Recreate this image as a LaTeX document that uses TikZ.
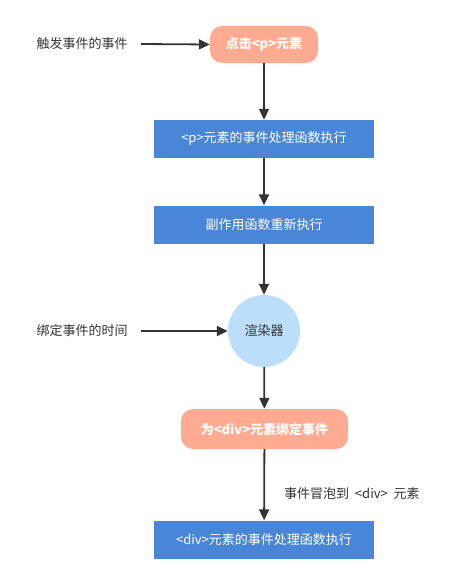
\documentclass[tikz,border=0pt]{standalone}
\usepackage{fontspec}
\setmainfont{Noto Sans CJK SC}
\usetikzlibrary{arrows.meta}
\definecolor{salmon}{HTML}{FFAB91}
\definecolor{bluebox}{HTML}{4A86D8}
\definecolor{lightblue}{HTML}{BBDEFB}
\definecolor{darkline}{HTML}{333333}
\definecolor{txt}{HTML}{333333}
\tikzset{
  x=1pt, y=-1pt,
  every node/.style={font=\fontsize{13}{15}\selectfont, inner sep=0pt},
  pill/.style={fill=salmon, rounded corners=12pt, text=white, align=center, font=\fontsize{13}{15}\selectfont\bfseries},
  bluestep/.style={fill=bluebox, minimum width=220pt, minimum height=38pt, text=white},
  roundnode/.style={circle, fill=lightblue, minimum size=72pt, text=txt},
  plain/.style={text=txt},
  conn/.style={draw=darkline, line width=1.8pt, -{Triangle[length=11pt,width=10pt]}}
}
\begin{document}
\begin{tikzpicture}
\useasboundingbox (0,0) rectangle (454,585);
\node[pill, minimum width=108pt, minimum height=37pt] (click) at (264,44.5) {点击<p>元素};
\node[plain] (trig) at (82,44) {触发事件的事件};
\coordinate (trigend) at (141,44);
\node[bluestep] (phandler) at (264,139) {<p>元素的事件处理函数执行};
\node[bluestep] (effect) at (264,224.5) {副作用函数重新执行};
\node[roundnode] (render) at (264,331) {渲染器};
\node[plain] (bind) at (82,331) {绑定事件的时间};
\coordinate (bindend) at (141,331);
\node[pill, minimum width=167pt, minimum height=40pt] (divbind) at (264.5,429) {为<div>元素绑定事件};
\node[bluestep] (divhandler) at (264,539.5) {<div>元素的事件处理函数执行};
\draw[conn] (trigend) -- (click.west);
\draw[conn] (click) -- (phandler);
\draw[conn] (phandler) -- (effect);
\draw[conn] (effect) -- (render);
\draw[conn] (bindend) -- (render.west);
\draw[conn] (render) -- (divbind);
\draw[conn] (divbind) -- node[plain, anchor=west, xshift=19pt, yshift=-9pt] {事件冒泡到\ \ <div>\ \ 元素} (divhandler);
\end{tikzpicture}
\end{document}
